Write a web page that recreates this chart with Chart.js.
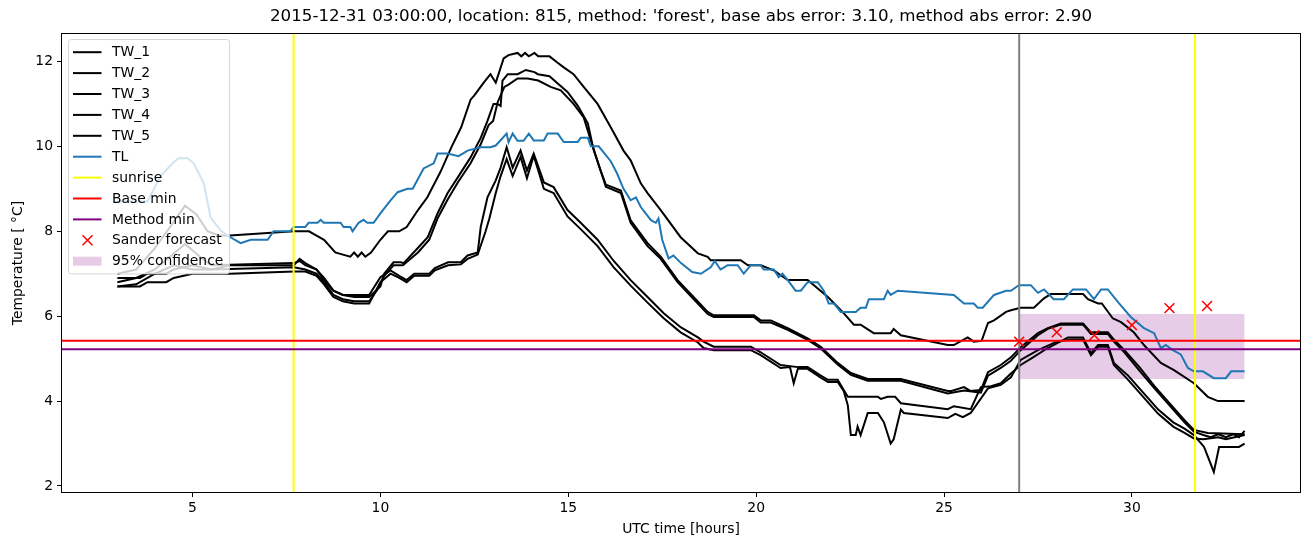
<!DOCTYPE html>
<html>
<head>
<meta charset="utf-8">
<script src="https://cdn.jsdelivr.net/npm/chart.js@4/dist/chart.umd.min.js"></script>
<style>
  html, body { margin: 0; padding: 0; background: #fff; }
  #wrap { width: 1310px; height: 547px; }
</style>
</head>
<body>
<div id="wrap"><canvas id="chart" width="1310" height="547"></canvas></div>
<script>
const chartTitle = "2015-12-31 03:00:00, location: 815, method: 'forest', base abs error: 3.10, method abs error: 2.90";
const xTicks = [5, 10, 15, 20, 25, 30];
const yTicks = [2, 4, 6, 8, 10, 12];
const X_MIN = 1.5, X_MAX = 34.5, Y_MIN = 1.835, Y_MAX = 12.67;

// [hour, temperature]
const tw1 = [[3.0,7.0],[3.5,7.1],[4.0,7.6],[4.4,8.1],[4.8,8.6],[5.1,8.4],[5.4,8.0],[5.7,7.9],[6.0,7.9],[7.7,8.0],[8.1,8.0],[8.3,7.9],[8.5,7.8],[8.8,7.5],[9.0,7.45],[9.2,7.4],[9.3,7.5],[9.4,7.4],[9.5,7.5],[9.6,7.4],[9.75,7.5],[10.0,7.8],[10.2,8.0],[10.5,8.0],[10.7,8.1],[11.0,8.5],[11.25,8.8],[11.6,9.4],[11.9,10.0],[12.15,10.45],[12.4,11.1],[12.5,11.2],[12.75,11.5],[12.93,11.7],[13.07,11.5],[13.28,12.07],[13.41,12.15],[13.65,12.2],[13.75,12.12],[13.85,12.2],[13.95,12.12],[14.1,12.2],[14.2,12.12],[14.5,12.12],[14.7,11.98],[14.88,11.86],[15.14,11.7],[15.41,11.4],[15.78,11.0],[16.13,10.45],[16.47,9.9],[16.66,9.67],[16.93,9.13],[17.11,8.9],[17.46,8.5],[17.99,7.86],[18.45,7.48],[18.71,7.4],[18.79,7.32],[19.59,7.32],[19.78,7.2],[20.12,7.2],[20.47,7.08],[20.84,6.85],[21.37,6.85],[21.91,6.45],[22.33,6.07],[22.6,5.8],[22.78,5.8],[23.13,5.6],[23.58,5.6],[23.66,5.7],[23.85,5.55],[25.1,5.32],[25.26,5.32],[25.63,5.5],[25.79,5.4],[26.0,5.42],[26.17,5.84],[26.33,5.9],[26.65,6.1],[26.78,6.14],[27.04,6.2],[27.39,6.2],[27.66,6.42],[27.84,6.52],[28.7,6.52],[28.83,6.4],[29.1,6.3],[29.2,6.3],[29.49,5.95],[29.71,5.86],[30.05,5.62],[30.32,5.32],[30.77,4.9],[31.12,4.73],[31.65,4.42],[32.02,4.1],[32.29,4.0],[33.0,4.0]];
const tw2 = [[3.0,6.8],[3.5,6.9],[4.0,7.1],[4.4,7.4],[4.8,7.7],[5.2,7.4],[5.5,7.2],[7.7,7.25],[7.85,7.3],[8.0,7.2],[8.3,7.1],[8.5,6.9],[8.75,6.6],[9.0,6.5],[9.3,6.45],[9.7,6.45],[10.0,6.7],[10.1,7.0],[10.35,7.27],[10.54,7.27],[10.62,7.25],[10.99,7.6],[11.26,7.86],[11.52,8.42],[11.79,8.9],[12.06,9.27],[12.4,9.74],[12.67,10.2],[12.85,10.6],[12.93,10.8],[13.01,11.0],[13.12,11.0],[13.2,10.95],[13.25,11.55],[13.39,11.7],[13.65,11.7],[13.87,11.8],[14.1,11.75],[14.19,11.7],[14.5,11.65],[14.72,11.48],[14.98,11.28],[15.25,10.96],[15.52,10.54],[15.68,9.9],[15.86,9.43],[16.0,9.1],[16.4,8.96],[16.66,8.26],[17.11,7.72],[17.46,7.4],[17.91,6.85],[18.34,6.45],[18.71,6.1],[18.87,6.02],[19.94,6.02],[20.12,5.9],[20.39,5.9],[20.84,5.72],[21.37,5.48],[21.72,5.28],[22.17,4.9],[22.52,4.66],[22.97,4.52],[23.85,4.52],[25.1,4.24],[25.2,4.24],[25.53,4.33],[25.7,4.24],[25.98,4.26],[26.17,4.68],[26.51,4.85],[26.78,5.03],[27.04,5.27],[27.5,5.6],[27.76,5.72],[28.11,5.83],[28.7,5.83],[28.91,5.62],[29.36,5.62],[29.52,5.45],[29.8,5.2],[30.2,4.8],[30.6,4.35],[31.0,3.95],[31.4,3.55],[31.65,3.32],[32.02,3.25],[33.0,3.22]];
const tw3 = [[3.0,6.7],[3.5,6.75],[4.0,7.0],[4.5,7.2],[5.0,7.1],[5.5,7.1],[7.7,7.15],[8.0,7.1],[8.3,7.0],[8.5,6.8],[8.75,6.5],[9.0,6.4],[9.3,6.35],[9.7,6.35],[9.9,6.6],[10.1,6.95],[10.35,7.2],[10.6,7.2],[11.0,7.5],[11.3,7.8],[11.52,8.3],[11.79,8.75],[12.06,9.15],[12.4,9.6],[12.67,10.05],[12.88,10.5],[13.0,10.6],[13.12,11.04],[13.3,11.4],[13.4,11.45],[13.65,11.6],[13.92,11.6],[14.2,11.55],[14.53,11.4],[14.8,11.32],[15.14,11.0],[15.41,10.68],[15.6,10.14],[15.86,9.43],[16.0,9.05],[16.4,8.9],[16.66,8.2],[17.11,7.65],[17.46,7.35],[17.91,6.8],[18.34,6.4],[18.71,6.05],[18.87,5.98],[19.94,5.98],[20.12,5.85],[20.39,5.85],[20.84,5.68],[21.37,5.44],[21.72,5.24],[22.17,4.86],[22.52,4.62],[22.97,4.48],[23.85,4.48],[25.1,4.18],[25.53,4.25],[25.98,4.2],[26.17,4.6],[26.51,4.78],[26.78,4.95],[27.04,5.2],[27.5,5.55],[27.76,5.7],[28.11,5.8],[28.7,5.8],[28.91,5.58],[29.36,5.58],[29.52,5.4],[29.8,5.15],[30.2,4.72],[30.6,4.3],[31.0,3.9],[31.4,3.5],[31.65,3.28],[31.9,3.2],[32.1,3.15],[32.3,3.22],[32.5,3.15],[32.7,3.22],[32.85,3.15],[33.0,3.3]];
const tw4 = [[3.0,6.9],[3.6,6.9],[3.8,7.0],[4.3,7.0],[4.5,7.1],[5.0,7.2],[5.5,7.1],[6.0,7.2],[7.7,7.2],[7.85,7.35],[8.0,7.25],[8.3,7.1],[8.5,6.85],[8.75,6.6],[9.0,6.5],[9.3,6.5],[9.7,6.5],[10.0,6.92],[10.27,7.08],[10.5,6.95],[10.7,6.85],[10.9,7.0],[11.3,7.0],[11.45,7.13],[11.8,7.27],[12.14,7.27],[12.32,7.43],[12.59,7.5],[12.67,8.1],[12.85,8.8],[13.07,9.2],[13.2,9.5],[13.36,9.98],[13.52,9.5],[13.73,9.9],[13.9,9.43],[14.08,9.83],[14.35,9.15],[14.61,9.04],[14.98,8.5],[15.33,8.2],[15.78,7.8],[16.21,7.3],[16.66,6.85],[17.11,6.45],[17.54,6.07],[17.99,5.74],[18.45,5.5],[18.6,5.4],[18.87,5.28],[19.86,5.28],[20.12,5.15],[20.65,4.85],[21.11,4.8],[21.37,4.8],[21.72,4.6],[21.91,4.5],[22.17,4.5],[22.33,4.26],[22.44,4.1],[23.24,4.1],[23.32,4.05],[23.5,4.1],[23.7,4.1],[23.85,3.95],[25.1,3.81],[25.26,3.88],[25.71,3.81],[25.98,4.33],[26.25,4.35],[26.51,4.42],[26.78,4.65],[27.04,4.85],[27.39,5.04],[27.76,5.25],[28.3,5.5],[28.7,5.5],[28.91,5.13],[29.1,5.32],[29.36,5.32],[29.52,4.9],[29.9,4.6],[30.3,4.2],[30.7,3.8],[31.1,3.5],[31.4,3.35],[31.65,3.2],[31.92,2.92],[32.18,2.33],[32.32,2.92],[32.85,2.92],[33.0,3.0]];
const tw5 = [[3.0,6.7],[3.6,6.7],[3.8,6.8],[4.3,6.8],[4.5,6.9],[5.0,7.0],[6.0,7.0],[7.7,7.05],[8.0,7.05],[8.3,6.95],[8.5,6.75],[8.75,6.45],[9.0,6.35],[9.3,6.3],[9.7,6.3],[10.0,6.8],[10.27,7.0],[10.5,6.9],[10.7,6.8],[10.9,6.95],[11.3,6.95],[11.45,7.08],[11.8,7.2],[12.14,7.22],[12.32,7.35],[12.59,7.45],[12.8,8.0],[12.9,8.3],[13.07,8.9],[13.2,9.3],[13.36,9.7],[13.52,9.3],[13.73,9.75],[13.9,9.25],[14.08,9.78],[14.35,9.0],[14.61,8.9],[14.98,8.35],[15.33,8.05],[15.78,7.65],[16.21,7.15],[16.66,6.72],[17.11,6.32],[17.54,5.95],[17.99,5.62],[18.45,5.38],[18.6,5.25],[18.87,5.2],[19.86,5.2],[20.12,5.08],[20.65,4.78],[20.9,4.8],[21.0,4.42],[21.11,4.76],[21.37,4.76],[21.72,4.55],[21.91,4.45],[22.17,4.45],[22.33,4.24],[22.44,3.9],[22.52,3.2],[22.65,3.2],[22.7,3.4],[22.78,3.2],[22.97,3.72],[23.24,3.72],[23.4,3.5],[23.58,3.0],[23.66,3.1],[23.85,3.8],[23.93,3.72],[25.1,3.6],[25.3,3.7],[25.5,3.62],[25.71,3.72],[26.17,4.3],[26.51,4.38],[26.78,4.56],[27.04,4.97],[27.5,5.2],[28.0,5.4],[28.38,5.45],[28.7,5.45],[28.91,5.08],[29.1,5.28],[29.36,5.28],[29.52,4.85],[29.9,4.5],[30.3,4.1],[30.7,3.7],[31.1,3.4],[31.4,3.25],[31.65,3.12],[31.9,3.1],[32.3,3.15],[32.5,3.1],[33.0,3.2]];
const tl = [[3.0,8.7],[3.8,8.7],[4.15,9.3],[4.47,9.6],[4.63,9.72],[4.87,9.72],[5.03,9.6],[5.3,9.13],[5.48,8.33],[5.75,8.02],[5.93,7.9],[6.28,7.72],[6.55,7.8],[7.0,7.8],[7.16,8.0],[7.6,8.0],[7.69,8.1],[8.0,8.1],[8.09,8.2],[8.33,8.2],[8.41,8.27],[8.49,8.2],[8.94,8.2],[9.02,8.1],[9.2,8.1],[9.26,8.0],[9.42,8.2],[9.55,8.27],[9.65,8.2],[9.82,8.2],[10.0,8.42],[10.27,8.73],[10.46,8.92],[10.72,9.0],[10.86,9.0],[11.15,9.48],[11.42,9.6],[11.52,9.83],[11.79,9.83],[12.08,9.77],[12.32,9.9],[12.67,9.98],[12.93,9.98],[13.07,10.02],[13.36,10.3],[13.41,10.1],[13.52,10.3],[13.65,10.13],[13.81,10.13],[13.95,10.3],[14.08,10.14],[14.35,10.14],[14.45,10.3],[14.72,10.3],[14.88,10.1],[15.25,10.1],[15.33,10.2],[15.52,10.2],[15.6,10.0],[15.81,10.0],[16.13,9.65],[16.3,9.36],[16.47,9.0],[16.66,8.73],[16.8,8.8],[16.93,8.57],[17.2,8.26],[17.33,8.2],[17.4,8.3],[17.5,7.8],[17.67,7.36],[17.8,7.43],[18.0,7.25],[18.3,7.04],[18.53,7.0],[18.79,7.15],[18.9,7.3],[19.05,7.1],[19.15,7.15],[19.24,7.2],[19.51,7.2],[19.67,7.0],[19.86,7.2],[20.12,7.2],[20.2,7.1],[20.47,7.1],[20.6,6.92],[20.7,7.0],[20.84,6.85],[21.05,6.6],[21.19,6.6],[21.37,6.8],[21.64,6.8],[21.8,6.6],[21.93,6.3],[22.07,6.3],[22.25,6.1],[22.65,6.1],[22.78,6.2],[22.92,6.2],[23.0,6.4],[23.4,6.4],[23.5,6.6],[23.58,6.5],[23.77,6.6],[25.26,6.5],[25.53,6.3],[25.79,6.3],[25.9,6.2],[26.03,6.2],[26.33,6.5],[26.65,6.6],[26.78,6.6],[26.99,6.73],[27.31,6.73],[27.5,6.55],[27.66,6.63],[27.92,6.4],[28.19,6.4],[28.43,6.63],[28.78,6.63],[28.99,6.4],[29.18,6.63],[29.36,6.63],[29.63,6.33],[29.97,5.98],[30.32,5.72],[30.59,5.6],[30.77,5.25],[30.9,5.32],[31.09,5.2],[31.3,5.1],[31.49,4.78],[31.65,4.7],[31.89,4.7],[32.18,4.54],[32.5,4.54],[32.64,4.7],[33.0,4.7]];

const sunriseHours = [7.69, 31.68];
const forecastHour = 27;
const baseMin = 5.42;
const methodMin = 5.22;
const sanderHours = [27, 28, 29, 30, 31, 32];
const sanderTemps = [5.40, 5.62, 5.55, 5.79, 6.19, 6.24];
const ciHours = [27, 33];
const ciLow = 4.52;
const ciHigh = 6.05;

const FONT = '"DejaVu Sans", sans-serif';
const toPts = arr => arr.map(([x, y]) => ({ x, y }));
const vline = hs => hs.flatMap(h => [{ x: h, y: Y_MIN }, { x: h, y: Y_MAX }, { x: h, y: null }]);
const hline = v => [{ x: X_MIN, y: v }, { x: X_MAX, y: v }];

function lineSet(label, data, color, legendKind) {
  return { label, data, borderColor: color, backgroundColor: color, borderWidth: 2,
    pointRadius: 0, tension: 0, fill: false, spanGaps: false, legendKind };
}

const datasets = [
  lineSet('TW_1', toPts(tw1), '#000000', 'line'),
  lineSet('TW_2', toPts(tw2), '#000000', 'line'),
  lineSet('TW_3', toPts(tw3), '#000000', 'line'),
  lineSet('TW_4', toPts(tw4), '#000000', 'line'),
  lineSet('TW_5', toPts(tw5), '#000000', 'line'),
  lineSet('TL', toPts(tl), '#1f77b4', 'line'),
  lineSet('sunrise', vline(sunriseHours), '#ffff00', 'line'),
  lineSet('', vline([forecastHour]), '#808080', null),
  lineSet('Base min', hline(baseMin), '#ff0000', 'line'),
  lineSet('Method min', hline(methodMin), '#800080', 'line'),
  {
    label: 'Sander forecast', type: 'scatter',
    data: sanderHours.map((h, i) => ({ x: h, y: sanderTemps[i] })),
    pointStyle: 'crossRot', pointRadius: 7, borderColor: '#ff0000', borderWidth: 1.5,
    showLine: false, legendKind: 'x'
  },
  {
    label: '95% confidence',
    data: ciHours.map(h => ({ x: h, y: ciHigh })),
    borderWidth: 0, pointRadius: 0, borderColor: 'rgba(0,0,0,0)',
    backgroundColor: 'rgba(128,0,128,0.2)', fill: { value: ciLow }, legendKind: 'rect'
  }
];
// later matplotlib calls sit on top; the band stays underneath
datasets.forEach((d, i) => { d.order = d.legendKind === 'rect' ? 100 : 50 - i; });

const mplDecor = {
  id: 'mplDecor',
  afterDatasetsDraw(chart) {
    const { ctx, chartArea: a } = chart;
    ctx.save();
    ctx.strokeStyle = '#000';
    ctx.lineWidth = 1;
    ctx.strokeRect(Math.round(a.left) + 0.5, Math.round(a.top) + 0.5,
      Math.round(a.right - a.left) - 1, Math.round(a.bottom - a.top) - 1);
    ctx.restore();
  },
  afterDraw(chart) {
    const { ctx, chartArea: a } = chart;
    ctx.save();
    ctx.fillStyle = '#000';
    ctx.textAlign = 'center';
    ctx.textBaseline = 'middle';
    ctx.font = '16.7px ' + FONT;
    ctx.fillText(chartTitle, (a.left + a.right) / 2, 17);
    ctx.font = '13.9px ' + FONT;
    ctx.fillText('UTC time [hours]', (a.left + a.right) / 2, 529);
    ctx.translate(18, (a.top + a.bottom) / 2);
    ctx.rotate(-Math.PI / 2);
    ctx.fillText('Temperature [ \u00b0C]', 0, 0);
    ctx.restore();

    // legend, upper left, matplotlib style
    const items = chart.data.datasets.filter(d => d.legendKind);
    const x0 = 68.5, y0 = 39.5, w = 161, rowH = 20.9;
    const h = (items.length - 1) * rowH + 25.4;
    ctx.save();
    ctx.beginPath();
    ctx.roundRect(x0, y0, w, h, 3);
    ctx.fillStyle = 'rgba(255,255,255,0.8)';
    ctx.fill();
    ctx.strokeStyle = 'rgba(204,204,204,0.8)';
    ctx.lineWidth = 1;
    ctx.stroke();
    ctx.font = '13.9px ' + FONT;
    ctx.textAlign = 'left';
    ctx.textBaseline = 'middle';
    items.forEach((d, i) => {
      const cy = y0 + 12.7 + i * rowH;
      if (d.legendKind === 'line') {
        ctx.strokeStyle = d.borderColor;
        ctx.lineWidth = 2;
        ctx.beginPath();
        ctx.moveTo(73, cy);
        ctx.lineTo(101.5, cy);
        ctx.stroke();
      } else if (d.legendKind === 'x') {
        ctx.strokeStyle = d.borderColor;
        ctx.lineWidth = 1.5;
        ctx.beginPath();
        ctx.moveTo(82.5, cy - 5); ctx.lineTo(92.5, cy + 5);
        ctx.moveTo(92.5, cy - 5); ctx.lineTo(82.5, cy + 5);
        ctx.stroke();
      } else {
        ctx.fillStyle = d.backgroundColor;
        ctx.fillRect(73, cy - 4.5, 28.5, 9);
      }
      ctx.fillStyle = '#000';
      ctx.fillText(d.label, 112, cy + 0.5);
    });
    ctx.restore();
  }
};

const tickFont = { family: FONT, size: 13.9 };
new Chart(document.getElementById('chart'), {
  type: 'line',
  data: { datasets },
  options: {
    responsive: false,
    devicePixelRatio: 1,
    animation: false,
    parsing: true,
    layout: { padding: { top: 33, right: 9, left: 0, bottom: 0 } },
    plugins: { legend: { display: false }, tooltip: { enabled: false }, title: { display: false } },
    scales: {
      x: {
        type: 'linear', min: X_MIN, max: X_MAX,
        afterBuildTicks: s => { s.ticks = xTicks.map(v => ({ value: v })); },
        afterFit: s => { s.height = 54; },
        grid: { drawOnChartArea: false, drawTicks: true, tickLength: 4, tickWidth: 1, tickColor: '#000' },
        border: { display: false },
        ticks: { color: '#000', font: tickFont, padding: 3, maxRotation: 0, autoSkip: false }
      },
      y: {
        type: 'linear', min: Y_MIN, max: Y_MAX,
        afterBuildTicks: s => { s.ticks = yTicks.map(v => ({ value: v })); },
        afterFit: s => { s.width = 61; },
        grid: { drawOnChartArea: false, drawTicks: true, tickLength: 4, tickWidth: 1, tickColor: '#000' },
        border: { display: false },
        ticks: { color: '#000', font: tickFont, padding: 4, autoSkip: false }
      }
    }
  },
  plugins: [mplDecor]
});
</script>
</body>
</html>
